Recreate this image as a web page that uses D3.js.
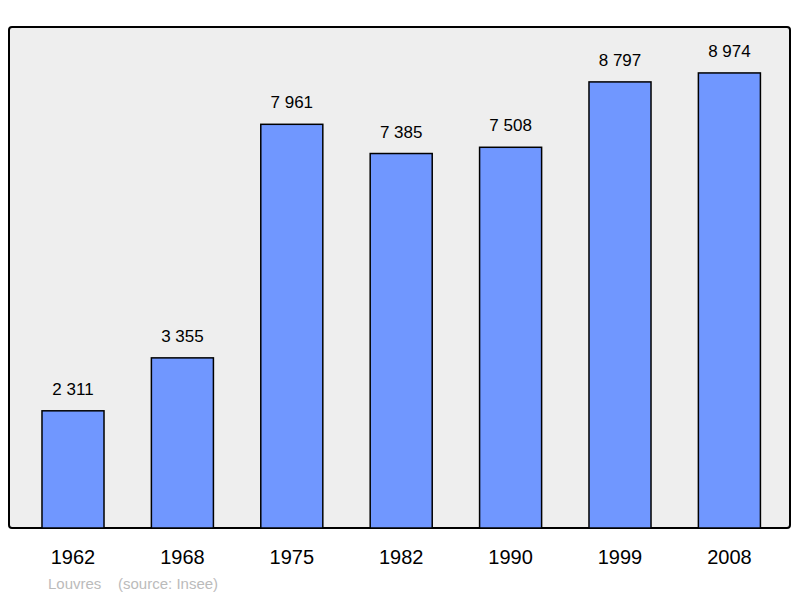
<!DOCTYPE html>
<html><head><meta charset="utf-8">
<script src="https://cdn.jsdelivr.net/npm/d3@7"></script>
<style>body{margin:0;background:#fff}</style>
</head><body>
<script>
const years = ["1962", "1968", "1975", "1982", "1990", "1999", "2008"]
const population = [2311, 3355, 7961, 7385, 7508, 8797, 8974]
const labels = ["2 311", "3 355", "7 961", "7 385", "7 508", "8 797", "8 974"]

const width = 800
const height = 598
const font = "Liberation Sans, Arial, sans-serif"

const svg = d3.select('body').append('svg')
  .attr('width', width).attr('height', height)

svg.append('rect')
  .attr('x', 9).attr('y', 27).attr('width', 781).attr('height', 501)
  .attr('rx', 3)
  .attr('fill', '#eeeeee').attr('stroke', '#000').attr('stroke-width', 2)

const x = d3.scaleBand().domain(years).range([18.3, 784.1]).paddingInner(0.433).paddingOuter(0.2165)
const y = d3.scaleLinear().domain([0, 9880]).range([528, 27])

svg.selectAll('rect.bar').data(population).enter().append('rect')
  .attr('class', 'bar')
  .attr('x', (d, i) => x(years[i]))
  .attr('y', d => y(d))
  .attr('width', x.bandwidth())
  .attr('height', d => y(0) - y(d))
  .attr('fill', '#7097ff').attr('stroke', '#000').attr('stroke-width', 1.5)

svg.selectAll('text.val').data(population).enter().append('text')
  .attr('x', (d, i) => x(years[i]) + x.bandwidth() / 2)
  .attr('y', d => y(d) - 16)
  .attr('text-anchor', 'middle')
  .attr('font-family', font).attr('font-size', 17)
  .text((d, i) => labels[i])

svg.selectAll('text.year').data(years).enter().append('text')
  .attr('x', d => x(d) + x.bandwidth() / 2)
  .attr('y', 564)
  .attr('text-anchor', 'middle')
  .attr('font-family', font).attr('font-size', 20)
  .text(d => d)

svg.append('text')
  .attr('x', 48).attr('y', 589)
  .attr('font-family', font).attr('font-size', 15)
  .attr('fill', '#bbbbbb')
  .attr('xml:space', 'preserve')
  .text('Louvres    (source: Insee)')
</script>
</body></html>
